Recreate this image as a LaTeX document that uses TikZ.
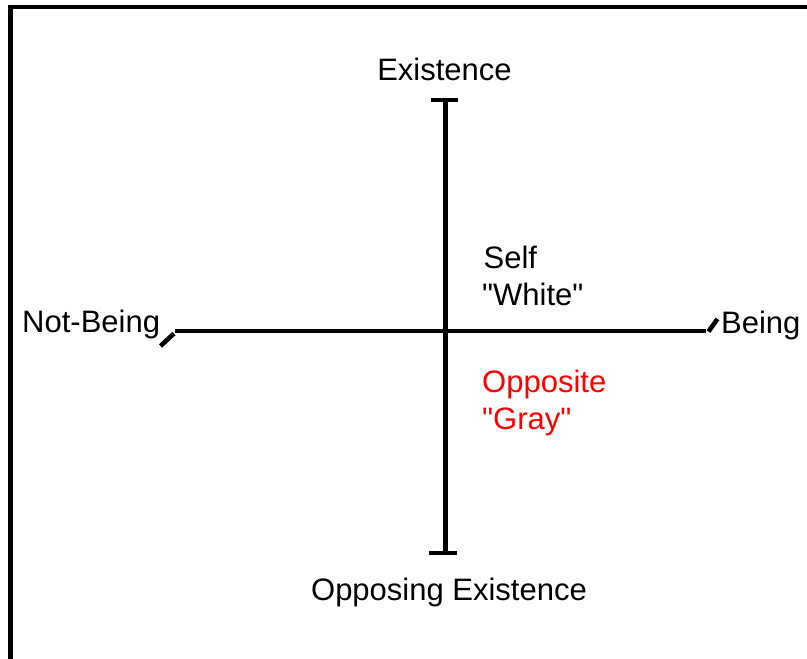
\documentclass[tikz,border=0pt]{standalone}
\usepackage{fontspec}
\setmainfont{Liberation Sans}
\newfontfamily\libplain{Liberation Sans}[Ligatures=ResetAll]
\newcommand{\sq}{{\libplain\symbol{34}}}
\begin{document}
\begin{tikzpicture}[x=1pt,y=-1pt,
  lbl/.style={inner sep=0pt,font=\fontsize{31}{37}\selectfont},
  axis/.style={line width=4.4pt},
  tick/.style={line width=4.6pt},
  frame/.style={line width=4.4pt}]
\clip (0,0) rectangle (807,659);
\fill[white] (0,0) rectangle (807,659);
% frame (continues beyond the picture's right and bottom)
\draw[frame] (10.5,700) -- (10.5,7) -- (840,7);
% axes
\coordinate (top) at (445.5,100);
\coordinate (bot) at (445.5,553);
\coordinate (left) at (175,331);
\coordinate (right) at (706,331);
\draw[axis] (top) -- (bot);
\draw[axis] (431,100) -- (458,100);
\draw[axis] (429,553) -- (456.5,553);
\draw[axis] (left) -- (right);
\draw[tick] (160.5,346) -- (174,333.5);
\draw[tick] (708.5,331.5) -- (717.5,319);
% labels
\node[lbl,anchor=base] (exist) at (444.5,80) {Existence};
\node[lbl,anchor=base] (oppexist) at (449,600.5) {Opposing Existence};
\node[lbl,anchor=base west] (notbeing) at (22,332.5) {Not-Being};
\node[lbl,anchor=base west] (being) at (721,333.5) {Being};
\node[lbl,anchor=base west] (self) at (483.5,268.5) {Self};
\node[lbl,anchor=base west] (white) at (482,305.5) {\sq White\sq};
\node[lbl,anchor=base west,text=red] (opposite) at (482,392.5) {Opposite};
\node[lbl,anchor=base west,text=red] (gray) at (482,429.5) {\sq Gray\sq};
\end{tikzpicture}
\end{document}
